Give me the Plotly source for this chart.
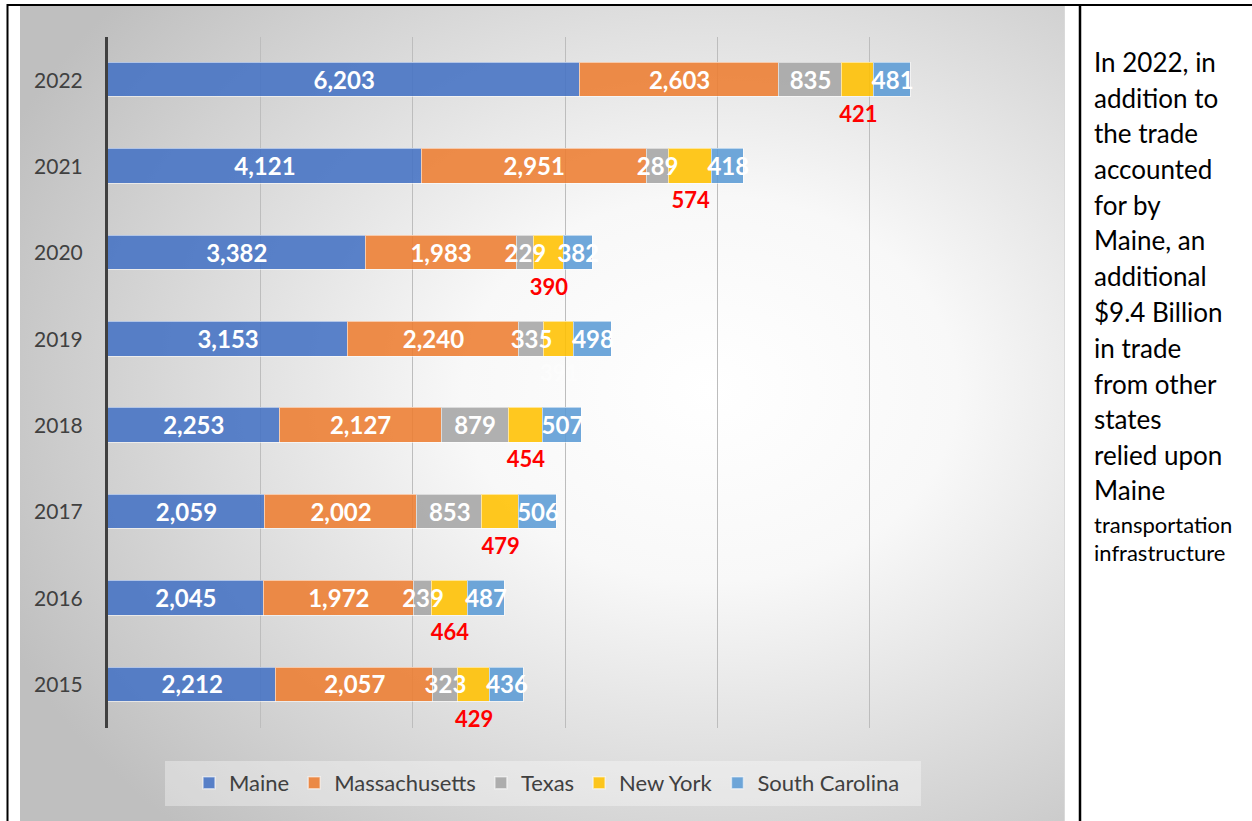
import base64
import plotly.graph_objects as go

# ---------------- data ----------------
years = ["2015", "2016", "2017", "2018", "2019", "2020", "2021", "2022"]
maine = [2212, 2045, 2059, 2253, 3153, 3382, 4121, 6203]
massachusetts = [2057, 1972, 2002, 2127, 2240, 1983, 2951, 2603]
texas = [323, 239, 853, 879, 335, 229, 289, 835]
new_york = [429, 464, 479, 454, 391, 390, 574, 421]
south_carolina = [436, 487, 506, 507, 498, 382, 418, 481]

series_names = ["Maine", "Massachusetts", "Texas", "New York", "South Carolina"]
series_values = [maine, massachusetts, texas, new_york, south_carolina]
series_colors = ["rgba(68,114,196,0.88)", "rgba(237,125,49,0.88)", "rgba(165,165,165,0.88)",
                 "rgba(255,192,0,0.88)", "rgba(91,155,213,0.88)"]

side_lines = ["In 2022, in", "addition to", "the trade", "accounted", "for by", "Maine, an",
              "additional", "$9.4 Billion", "in trade", "from other", "states", "relied upon",
              "Maine", "transportation", "infrastructure"]

FONT = "Lato"

# ---------------- layout geometry (pixels) ----------------
W, H = 1252, 821
L, R, T, B = 108, 1022, 37, 728
PW, PH = R - L, B - T


def px(x):
    return (x - L) / PW


def py(y):
    return (B - y) / PH


ypos = list(range(len(years)))

fig = go.Figure()

# stacked bars
for name, vals, col in zip(series_names, series_values, series_colors):
    fig.add_trace(go.Bar(
        y=ypos, x=vals, name=name, orientation="h", width=0.4,
        marker=dict(color=col, line=dict(color="rgba(255,255,255,0.55)", width=1.5)),
        hoverinfo="skip",
    ))

# labels
base = [0] * len(years)
for name, vals in zip(series_names, series_values):
    centers = [b + v / 2 for b, v in zip(base, vals)]
    labels = [f"{v:,}" for v in vals]
    if name == "New York":
        colors = ["#ff0000" if y != "2019" else "rgba(255,255,255,0.45)" for y in years]
        fig.add_trace(go.Scatter(
            x=centers, y=[p - 0.42 for p in ypos], mode="text", text=labels,
            textfont=dict(family=FONT, size=22, color=colors, weight="bold"),
            showlegend=False, hoverinfo="skip", cliponaxis=False,
        ))
    else:
        fig.add_trace(go.Scatter(
            x=centers, y=[p - 0.03 for p in ypos], mode="text", text=labels,
            textfont=dict(family=FONT, size=24, color="#ffffff", weight="bold"),
            showlegend=False, hoverinfo="skip", cliponaxis=False,
        ))
    base = [b + v for b, v in zip(base, vals)]

# background gradient (chart area)
gx0, gx1, gy0, gy1 = 20, 1065, 6, 821
svg = (
    f"<svg xmlns='http://www.w3.org/2000/svg' width='{gx1-gx0}' height='{gy1-gy0}' "
    f"viewBox='0 0 {gx1-gx0} {gy1-gy0}' preserveAspectRatio='none'>"
    "<defs><radialGradient id='g' cx='0.66' cy='0.47' r='0.74'>"
    "<stop offset='0' stop-color='#ffffff'/><stop offset='0.32' stop-color='#f8f8f8'/>"
    "<stop offset='1' stop-color='#bfbfbf'/></radialGradient></defs>"
    "<rect x='0' y='0' width='100%' height='100%' fill='url(#g)'/></svg>"
)
src = "data:image/svg+xml;base64," + base64.b64encode(svg.encode()).decode()
fig.add_layout_image(dict(
    source=src, xref="paper", yref="paper", x=px(gx0), y=py(gy0),
    sizex=(gx1 - gx0) / PW, sizey=(gy1 - gy0) / PH, xanchor="left", yanchor="top",
    sizing="stretch", layer="below",
))

shapes = [
    # legend box
    dict(type="rect", xref="paper", yref="paper", x0=px(165), x1=px(921), y0=py(761), y1=py(806),
         fillcolor="rgba(255,255,255,0.35)", line=dict(width=0), layer="below"),
    # light edge at right of chart area
    dict(type="line", xref="paper", yref="paper", x0=px(1064.5), x1=px(1064.5), y0=py(6), y1=py(821),
         line=dict(color="#d9d9d9", width=1)),
    # table borders
    dict(type="line", xref="paper", yref="paper", x0=px(7), x1=px(1252), y0=py(5), y1=py(5),
         line=dict(color="#000000", width=2)),
    dict(type="line", xref="paper", yref="paper", x0=px(7.5), x1=px(7.5), y0=py(4), y1=py(821),
         line=dict(color="#000000", width=2)),
    dict(type="line", xref="paper", yref="paper", x0=px(1080), x1=px(1080), y0=py(4), y1=py(821),
         line=dict(color="#000000", width=2.5)),
]

annotations = []
line_y = [62, 98, 133, 169, 205, 240, 276, 312, 348, 384, 419, 455, 490, 524, 552]
for i, (txt, yy) in enumerate(zip(side_lines, line_y)):
    small = txt in ("transportation", "infrastructure")
    annotations.append(dict(
        x=px(1092), y=py(yy), xref="paper", yref="paper", xanchor="left", yanchor="middle",
        text=txt, showarrow=False,
        font=dict(family=FONT, size=22 if small else 26, color="#000000"),
    ))

fig.update_layout(
    width=W, height=H, autosize=False,
    margin=dict(l=L, r=W - R, t=T, b=H - B, pad=0),
    paper_bgcolor="#ffffff", plot_bgcolor="rgba(0,0,0,0)",
    barmode="stack", bargap=0,
    font=dict(family=FONT, color="#404040"),
    shapes=shapes, annotations=annotations,
    legend=dict(
        orientation="h", x=px(547), xanchor="center", y=py(783), yanchor="middle",
        bgcolor="rgba(0,0,0,0)", font=dict(family=FONT, size=22, color="#404040"),
        itemclick=False, itemdoubleclick=False, traceorder="normal",
    ),
    xaxis=dict(range=[0, 12000], dtick=2000, showticklabels=False, showgrid=True,
               gridcolor="#bdbdbd", gridwidth=1, zeroline=False, showline=False, fixedrange=True),
    yaxis=dict(range=[-0.5, 7.5], tickvals=ypos, ticktext=years, showgrid=False, zeroline=False,
               showline=True, linecolor="#404040", linewidth=3, ticks="", ticklabelstandoff=18,
               tickfont=dict(family=FONT, size=21, color="#404040"), fixedrange=True),
)

fig.write_html("out.html", include_plotlyjs=True, config={"displayModeBar": False},
               post_script="document.body.style.margin='0';document.body.style.overflow='hidden';")
